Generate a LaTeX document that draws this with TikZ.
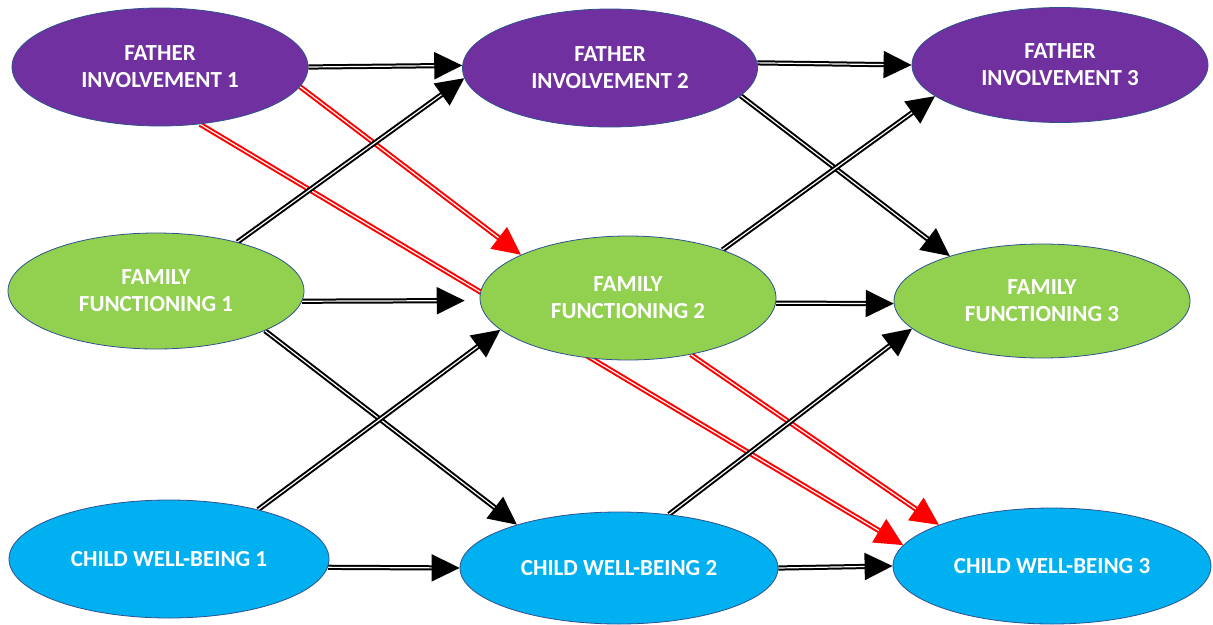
\documentclass[tikz,border=0pt]{standalone}
\usepackage{fontspec}
\setmainfont{Carlito}
\usetikzlibrary{shapes.geometric,arrows.meta,backgrounds}
\definecolor{fipurple}{HTML}{7030A0}
\definecolor{ffgreen}{HTML}{92D050}
\definecolor{cwblue}{HTML}{00B0F0}
\definecolor{edgeblue}{HTML}{2F528F}
\definecolor{arred}{HTML}{FF0000}
\tikzset{
  oval/.style={ellipse, draw=edgeblue, line width=0.8pt, inner sep=0pt,
    text=white, align=center, font=\fontsize{23}{27}\selectfont\bfseries},
  fi/.style={oval, fill=fipurple},
  ff/.style={oval, fill=ffgreen},
  cw/.style={oval, fill=cwblue},
  conn/.style={draw=black, line width=2pt, double=white, double distance=1.2pt,
    -{Triangle[length=28pt,width=27pt]}},
  redconn/.style={conn, draw=arred},
}
\begin{document}
\begin{tikzpicture}[x=1pt,y=-1pt]
\useasboundingbox (0,0) rectangle (1213,624);
\node[fi, minimum width=296pt, minimum height=118pt] (fi1) at (160,67) {FATHER\\INVOLVEMENT 1};
\node[fi, minimum width=295pt, minimum height=118pt] (fi2) at (610,68) {FATHER\\INVOLVEMENT 2};
\node[fi, minimum width=296pt, minimum height=115pt] (fi3) at (1060,65) {FATHER\\INVOLVEMENT 3};
\node[ff, minimum width=296pt, minimum height=116pt] (ff1) at (156,291) {FAMILY\\FUNCTIONING 1};
\node[ff, minimum width=296pt, minimum height=124pt] (ff2) at (628,298) {FAMILY\\FUNCTIONING 2};
\node[ff, minimum width=296pt, minimum height=114pt] (ff3) at (1042,301) {FAMILY\\FUNCTIONING 3};
\node[cw, minimum width=320pt, minimum height=118pt] (cw1) at (169,559) {CHILD WELL-BEING 1};
\node[cw, minimum width=318pt, minimum height=112pt] (cw2) at (619,568) {CHILD WELL-BEING 2};
\node[cw, minimum width=318pt, minimum height=116pt] (cw3) at (1052,566) {CHILD WELL-BEING 3};
\begin{scope}[on background layer]
\draw[conn] (fi1.0) -- (fi2.179);
\draw[redconn] (fi1.-8) -- (ff2.158);
\draw[redconn] (fi1.-55) -- (cw3.172.6);
\draw[conn] (ff1.31) -- (fi2.184.6);
\draw[conn, shorten >=15pt] (ff1.-4) -- (ff2.181);
\draw[conn] (ff1.-20) -- (cw2.157);
\draw[conn] (cw1.29) -- (ff2.194);
\draw[conn] (cw1.-3.6) -- (cw2.180);
\draw[conn] (fi2.2) -- (fi3.180);
\draw[conn] (fi2.-12.6) -- (ff3.154);
\draw[conn] (ff2.27) -- (fi3.194.5);
\draw[conn] (ff2.-2.3) -- (ff3.181);
\draw[redconn] (ff2.-42) -- (cw3.160);
\draw[conn] (cw2.47) -- (ff3.192.6);
\draw[conn] (cw2.0.7) -- (cw3.180);
\end{scope}
\end{tikzpicture}
\end{document}
